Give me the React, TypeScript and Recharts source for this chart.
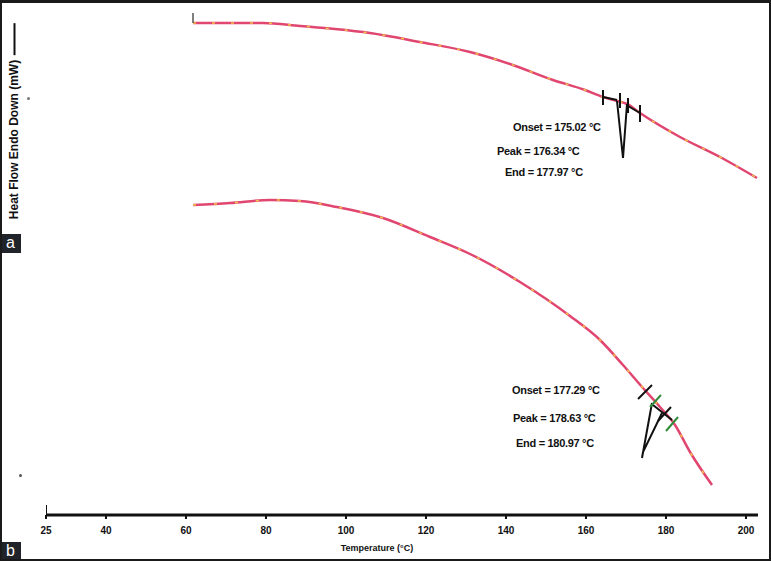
import React from "react";
import { LineChart, Line, XAxis, YAxis } from "recharts";

// temperature (°C) vs heat flow (arbitrary mW units)
const curveA = [
  { t: 61.75, v: 98.4 },
  { t: 71, v: 98.4 },
  { t: 79.25, v: 98.4 },
  { t: 88.5, v: 97.8 },
  { t: 97.25, v: 97.2 },
  { t: 106, v: 96.4 },
  { t: 118.5, v: 94.6 },
  { t: 131, v: 92.6 },
  { t: 141, v: 90.2 },
  { t: 151.75, v: 87 },
  { t: 159.75, v: 85 },
  { t: 164.25, v: 83.6 },
  { t: 167.75, v: 82.8 },
  { t: 170.25, v: 82.2 },
  { t: 173.5, v: 80.4 },
  { t: 183.5, v: 75.6 },
  { t: 193.5, v: 71.6 },
  { t: 202.75, v: 67.4 },
];

const curveB = [
  { t: 61.75, v: 62 },
  { t: 71, v: 62.4 },
  { t: 81, v: 63 },
  { t: 88.5, v: 62.8 },
  { t: 97.75, v: 61.6 },
  { t: 109.25, v: 59.4 },
  { t: 121, v: 55.6 },
  { t: 131, v: 52.2 },
  { t: 143.5, v: 46.6 },
  { t: 156, v: 39.8 },
  { t: 163.5, v: 35 },
  { t: 169.25, v: 30 },
  { t: 174.25, v: 25.4 },
  { t: 178.5, v: 21.6 },
  { t: 182.25, v: 18 },
  { t: 186, v: 12.6 },
  { t: 191.5, v: 6 },
];

// endotherm peaks (black V)
const peakA = [
  { t: 167.75, v: 82.8 },
  { t: 169.25, v: 71.4 },
  { t: 170.25, v: 82.2 },
];
const peakB = [
  { t: 176.5, v: 22.4 },
  { t: 174, v: 11.4 },
  { t: 174.25, v: 12.6 },
  { t: 179, v: 20.4 },
];

// onset / end marker ticks
const ticksA = [
  [{ t: 164.25, v: 85 }, { t: 164.25, v: 82 }],
  [{ t: 168.5, v: 84.4 }, { t: 168.5, v: 81.4 }],
  [{ t: 170.5, v: 83.4 }, { t: 170.5, v: 80.4 }],
  [{ t: 173.5, v: 82 }, { t: 173.5, v: 78.6 }],
  [{ t: 164.25, v: 83.6 }, { t: 167.75, v: 83 }],
  [{ t: 170.5, v: 81.8 }, { t: 173.5, v: 80.4 }],
];
const ticksBBlack = [
  [{ t: 173, v: 23.2 }, { t: 176.5, v: 26 }],
  [{ t: 178, v: 18.8 }, { t: 181.25, v: 21.6 }],
  [{ t: 176.75, v: 22 }, { t: 181.5, v: 19 }],
];
const ticksBGreen = [
  [{ t: 176, v: 21.6 }, { t: 178.75, v: 24 }],
  [{ t: 180, v: 16.8 }, { t: 183, v: 19.6 }],
];
const startTickA = [
  { t: 61.75, v: 100.4 },
  { t: 61.75, v: 98.4 },
];
const axisStart = [
  { t: 25, v: 2 },
  { t: 25, v: 0 },
];

const xTicks = [25, 40, 60, 80, 100, 120, 140, 160, 180, 200];

const notesA = ["Onset = 175.02 °C", "Peak = 176.34 °C", "End = 177.97 °C"];
const notesB = ["Onset = 177.29 °C", "Peak = 178.63 °C", "End = 180.97 °C"];

const NARROW = "'Liberation Sans Narrow', 'Liberation Sans', Arial, sans-serif";
const SANS = "'Liberation Sans', Arial, sans-serif";
const PINK = "#e0466f";
const INK = "#1a1a1a";

function Note({ x, y, text }: { x: number; y: number; text: string }) {
  return (
    <div
      style={{
        position: "absolute",
        left: x,
        top: y - 6,
        fontFamily: SANS,
        fontWeight: 700,
        fontSize: 11,
        lineHeight: "12px",
        color: "#111",
        whiteSpace: "nowrap",
        letterSpacing: -0.3,
      }}
    >
      {text}
    </div>
  );
}

function Tag({ top, text }: { top: number; text: string }) {
  return (
    <div
      style={{
        position: "absolute",
        left: 0,
        top,
        width: 21,
        height: 19,
        background: "#20242a",
        color: "#fff",
        fontFamily: SANS,
        fontSize: 16,
        lineHeight: "18px",
        textAlign: "center",
        zIndex: 5,
      }}
    >
      {text}
    </div>
  );
}

function Edge(props: { left: number; top: number; width: number; height: number }) {
  return <div style={{ position: "absolute", background: INK, zIndex: 6, ...props }} />;
}

function seg(data: { t: number; v: number }[], key: string, color: string, w = 2) {
  return (
    <Line
      key={key}
      data={data}
      dataKey="v"
      type="linear"
      stroke={color}
      strokeWidth={w}
      dot={false}
      isAnimationActive={false}
    />
  );
}

export default function App() {
  return (
    <div
      style={{
        position: "fixed",
        left: 0,
        top: 0,
        width: 771,
        height: 561,
        background: "#fff",
        overflow: "hidden",
      }}
    >
      <LineChart
        width={771}
        height={561}
        margin={{ top: 10, right: 13, bottom: 16, left: 46 }}
      >
        <XAxis
          type="number"
          dataKey="t"
          domain={[25, 203]}
          ticks={xTicks}
          allowDataOverflow
          height={30}
          axisLine={{ stroke: "#111", strokeWidth: 3 }}
          tickLine={{ stroke: "#111", strokeWidth: 2 }}
          tickSize={4}
          tickMargin={8}
          tick={{ fontSize: 10, fontWeight: 700, fill: "#111", fontFamily: NARROW }}
        />
        <YAxis type="number" domain={[0, 101]} hide width={0} allowDataOverflow />
        <Line
          data={curveA}
          dataKey="v"
          type="monotone"
          stroke={PINK}
          strokeWidth={2.5}
          dot={false}
          isAnimationActive={false}
        />
        <Line
          data={curveA}
          dataKey="v"
          type="monotone"
          stroke="#f2c24a"
          strokeWidth={1.5}
          strokeDasharray="3 16"
          dot={false}
          isAnimationActive={false}
        />
        <Line
          data={curveB}
          dataKey="v"
          type="monotone"
          stroke={PINK}
          strokeWidth={2.5}
          dot={false}
          isAnimationActive={false}
        />
        <Line
          data={curveB}
          dataKey="v"
          type="monotone"
          stroke="#f2c24a"
          strokeWidth={1.5}
          strokeDasharray="3 18"
          dot={false}
          isAnimationActive={false}
        />
        {seg(startTickA, "start", "#555", 1.5)}
        {seg(axisStart, "axis0", "#111", 2)}
        {seg(peakA, "peakA", "#111", 2)}
        {seg(peakB, "peakB", "#111", 2)}
        {ticksA.map((d, i) => seg(d, `ta${i}`, "#111", 2))}
        {ticksBBlack.map((d, i) => seg(d, `tb${i}`, "#111", 2))}
        {ticksBGreen.map((d, i) => seg(d, `tg${i}`, "#2f8a3a", 2))}
      </LineChart>

      {/* y axis title, reading upward */}
      <div
        style={{
          position: "absolute",
          left: 14,
          top: 121,
          transform: "translate(-50%, -50%) rotate(-90deg)",
          fontFamily: SANS,
          fontWeight: 700,
          fontSize: 12,
          lineHeight: "13px",
          whiteSpace: "nowrap",
          color: "#111",
          display: "flex",
          alignItems: "center",
        }}
      >
        Heat Flow Endo Down (mW)
        <span
          style={{
            display: "inline-block",
            width: 32,
            height: 2,
            background: "#111",
            marginLeft: 5,
          }}
        />
      </div>

      <div
        style={{
          position: "absolute",
          left: 377,
          top: 543,
          transform: "translateX(-50%)",
          fontFamily: NARROW,
          fontWeight: 700,
          fontSize: 9,
          lineHeight: "10px",
          color: "#111",
          whiteSpace: "nowrap",
        }}
      >
        Temperature (°C)
      </div>

      <Note x={513} y={127} text={notesA[0]} />
      <Note x={497} y={151} text={notesA[1]} />
      <Note x={505} y={172} text={notesA[2]} />
      <Note x={512} y={390} text={notesB[0]} />
      <Note x={513} y={418} text={notesB[1]} />
      <Note x={516} y={443} text={notesB[2]} />

      <div style={{ position: "absolute", left: 27, top: 97, width: 3, height: 3, background: "#777", borderRadius: 2 }} />
      <div style={{ position: "absolute", left: 19, top: 474, width: 3, height: 3, background: "#555", borderRadius: 2 }} />

      <Tag top={234} text="a" />
      <Tag top={542} text="b" />

      <Edge left={0} top={0} width={771} height={3} />
      <Edge left={0} top={0} width={2} height={561} />
      <Edge left={769} top={0} width={2} height={561} />
      <Edge left={0} top={559} width={771} height={2} />
    </div>
  );
}
